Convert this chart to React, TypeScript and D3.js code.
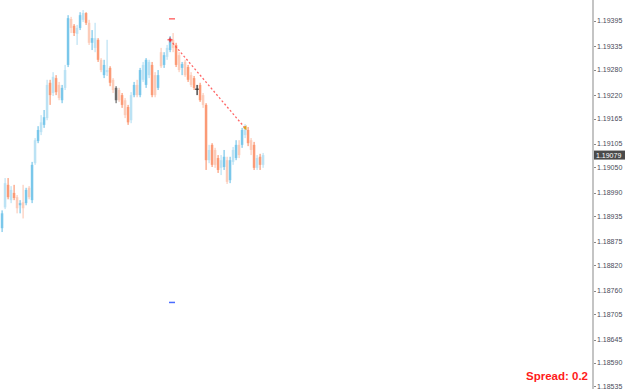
import React from 'react';
import * as d3 from 'd3';

const W = 625;
const H = 389;

const openP = [
  1.18907, 1.18956, 1.19009, 1.18973, 1.18990, 1.18980, 1.18961, 1.18968, 1.18966, 1.19002,
  1.18973, 1.19060, 1.19112, 1.19133, 1.19150, 1.19166, 1.19249, 1.19225, 1.19260, 1.19244,
  1.19208, 1.19237, 1.19291, 1.19399, 1.19383, 1.19364, 1.19378, 1.19397, 1.19413, 1.19390,
  1.19343, 1.19331, 1.19350, 1.19303, 1.19267, 1.19274, 1.19284, 1.19256, 1.19237, 1.19232,
  1.19220, 1.19208, 1.19192, 1.19161, 1.19220, 1.19244, 1.19220, 1.19256, 1.19244, 1.19267,
  1.19291, 1.19267, 1.19237, 1.19321, 1.19291, 1.19310, 1.19326, 1.19350, 1.19338, 1.19314,
  1.19284, 1.19298, 1.19286, 1.19267, 1.19260, 1.19234, 1.19244, 1.19220, 1.19197, 1.19067,
  1.19103, 1.19091, 1.19072, 1.19049, 1.19051, 1.19067, 1.19020, 1.19063, 1.19072, 1.19103,
  1.19103, 1.19126, 1.19138, 1.19114, 1.19103, 1.19049, 1.19075, 1.19056,
];
const highP = [
  1.18949, 1.19025, 1.19025, 1.19006, 1.19009, 1.18985, 1.18973, 1.19009, 1.19002, 1.19006,
  1.19063, 1.19119, 1.19147, 1.19173, 1.19185, 1.19256, 1.19256, 1.19274, 1.19267, 1.19251,
  1.19244, 1.19291, 1.19408, 1.19404, 1.19387, 1.19385, 1.19415, 1.19420, 1.19415, 1.19397,
  1.19373, 1.19390, 1.19354, 1.19307, 1.19303, 1.19350, 1.19288, 1.19260, 1.19241, 1.19237,
  1.19225, 1.19213, 1.19197, 1.19227, 1.19251, 1.19256, 1.19284, 1.19298, 1.19307, 1.19303,
  1.19298, 1.19274, 1.19279, 1.19331, 1.19321, 1.19338, 1.19359, 1.19366, 1.19343, 1.19321,
  1.19298, 1.19303, 1.19291, 1.19274, 1.19265, 1.19244, 1.19249, 1.19225, 1.19201, 1.19103,
  1.19107, 1.19096, 1.19079, 1.19079, 1.19091, 1.19075, 1.19075, 1.19098, 1.19114, 1.19114,
  1.19143, 1.19152, 1.19145, 1.19119, 1.19110, 1.19079, 1.19082, 1.19084,
];
const lowP = [
  1.18898, 1.18952, 1.18975, 1.18966, 1.18973, 1.18942, 1.18942, 1.18930, 1.18961, 1.18975,
  1.18966, 1.19056, 1.19107, 1.19126, 1.19143, 1.19161, 1.19197, 1.19218, 1.19220, 1.19208,
  1.19201, 1.19232, 1.19286, 1.19366, 1.19359, 1.19338, 1.19373, 1.19392, 1.19385, 1.19338,
  1.19326, 1.19321, 1.19298, 1.19274, 1.19260, 1.19265, 1.19241, 1.19225, 1.19201, 1.19204,
  1.19190, 1.19166, 1.19150, 1.19154, 1.19215, 1.19215, 1.19215, 1.19251, 1.19237, 1.19260,
  1.19215, 1.19215, 1.19232, 1.19284, 1.19284, 1.19303, 1.19321, 1.19321, 1.19286, 1.19274,
  1.19267, 1.19263, 1.19251, 1.19239, 1.19232, 1.19220, 1.19204, 1.19190, 1.19044, 1.19060,
  1.19051, 1.19049, 1.19037, 1.19032, 1.19044, 1.19011, 1.19013, 1.19056, 1.19067, 1.19072,
  1.19096, 1.19119, 1.19100, 1.19079, 1.19044, 1.19044, 1.19044, 1.19049,
];
const closeP = [
  1.18942, 1.19013, 1.18980, 1.18997, 1.18978, 1.18954, 1.18966, 1.18954, 1.18997, 1.18980,
  1.19056, 1.19114, 1.19138, 1.19156, 1.19168, 1.19244, 1.19220, 1.19263, 1.19227, 1.19213,
  1.19237, 1.19279, 1.19401, 1.19378, 1.19366, 1.19378, 1.19408, 1.19413, 1.19390, 1.19343,
  1.19354, 1.19354, 1.19303, 1.19279, 1.19291, 1.19279, 1.19249, 1.19232, 1.19208, 1.19208,
  1.19197, 1.19173, 1.19156, 1.19220, 1.19244, 1.19220, 1.19279, 1.19291, 1.19303, 1.19298,
  1.19220, 1.19220, 1.19267, 1.19288, 1.19314, 1.19331, 1.19354, 1.19331, 1.19291, 1.19279,
  1.19293, 1.19267, 1.19256, 1.19244, 1.19237, 1.19234, 1.19208, 1.19197, 1.19067, 1.19091,
  1.19056, 1.19056, 1.19044, 1.19067, 1.19075, 1.19016, 1.19067, 1.19091, 1.19103, 1.19079,
  1.19138, 1.19145, 1.19107, 1.19091, 1.19049, 1.19072, 1.19056, 1.19079,
];

const darkBars = [38];
const dojiBars = [65];

const tickLabels = [
  '1.19395', '1.19335', '1.19280', '1.19220', '1.19165', '1.19105', '1.19050', '1.18990',
  '1.18935', '1.18875', '1.18820', '1.18760', '1.18705', '1.18645', '1.18590', '1.18535',
];
const currentPrice = 1.19079;
const currentLabel = '1.19079';
const spreadText = 'Spread: 0.2';
const trendBars = [56, 81];
const trendPrices = [1.1935, 1.19143];
const markerBar = 56;
const dayHigh = 1.194;
const dayLow = 1.18733;

const BULL = '#7ac7ea';
const BEAR = '#fb9a76';

export default function App() {
  const n = openP.length;
  const y = d3.scaleLinear().domain([1.18535, 1.19395]).range([386.4, 20.7]);
  const x = d3.scaleLinear().domain([0, n - 1]).range([1, 1 + 3 * (n - 1)]);
  const axisX = 592;
  const font = '"Liberation Sans", Arial, sans-serif';

  const candles = d3.range(n).map((i) => {
    const o = openP[i], c = closeP[i], h = highP[i], l = lowP[i];
    const left = x(i);
    const bull = c >= o;
    let color = bull ? BULL : BEAR;
    let opacity = i % 2 === 0 ? 1 : 0.5;
    if (darkBars.includes(i)) { color = '#6a6a6a'; opacity = 1; }
    if (dojiBars.includes(i)) {
      return (
        <g key={i}>
          <rect x={left + 0.5} y={y(h)} width={1.2} height={y(l) - y(h)} fill="#222" />
          <rect x={left - 1} y={y(o) - 0.5} width={4} height={1} fill="#222" />
        </g>
      );
    }
    const top = y(Math.max(o, c));
    const bh = Math.max(1, Math.abs(y(o) - y(c)));
    return (
      <g key={i} opacity={opacity}>
        <rect x={left + 0.5} y={y(h)} width={1.2} height={y(l) - y(h)} fill={color} />
        <rect x={left - 0.2} y={top} width={2.5} height={bh} fill={color} />
      </g>
    );
  });

  const tx0 = x(trendBars[0]) + 1;
  const ty0 = y(trendPrices[0]);
  const tx1 = x(trendBars[1]) + 1;
  const ty1 = y(trendPrices[1]);

  const cy = y(currentPrice);

  return (
    <svg width={W} height={H} style={{ position: 'absolute', left: 0, top: 0, background: '#fff' }}>
      <rect x={0} y={0} width={W} height={H} fill="#ffffff" />
      {candles}
      <rect x={x(markerBar)} y={y(dayHigh) - 0.5} width={6} height={1.5} fill="#ff7070" />
      <rect x={x(markerBar)} y={y(dayLow) - 0.5} width={6} height={1.5} fill="#4a6cff" />
      <line x1={tx0} y1={ty0} x2={tx1} y2={ty1} stroke="#ff4040" strokeWidth={1.3} strokeDasharray="2,2.2" opacity={0.8} />
      <g stroke="#ff2020" strokeWidth={1}>
        <line x1={tx0 - 2.5} y1={ty0} x2={tx0 + 2.5} y2={ty0} />
        <line x1={tx0} y1={ty0 - 2.5} x2={tx0} y2={ty0 + 2.5} />
      </g>
      <path d={`M${tx1 - 2},${ty1} L${tx1 + 1.5},${ty1 - 2.5} L${tx1 + 1.5},${ty1 + 2.5} Z`} fill="#e0a020" />
      <rect x={axisX} y={0} width={2} height={H} fill="#c4c4c4" />
      {tickLabels.map((t) => {
        const ty = y(+t);
        return (
          <g key={t}>
            <line x1={axisX + 2} x2={axisX + 4} y1={Math.round(ty) + 0.5} y2={Math.round(ty) + 0.5} stroke="#888" strokeWidth={1} />
            <text x={axisX + 5} y={ty} dy="0.35em" fontFamily={font} fontSize={7} fill="#4a4a5a">{t}</text>
          </g>
        );
      })}
      <rect x={axisX + 2} y={cy - 4.5} width={31} height={9} fill="#4a4a4a" />
      <text x={axisX + 4} y={cy} dy="0.35em" fontFamily={font} fontSize={7} fill="#ffffff">{currentLabel}</text>
      <text x={588} y={380} textAnchor="end" fontFamily={font} fontSize={11.5} fontWeight="bold" fill="#ff1a1a">{spreadText}</text>
    </svg>
  );
}
